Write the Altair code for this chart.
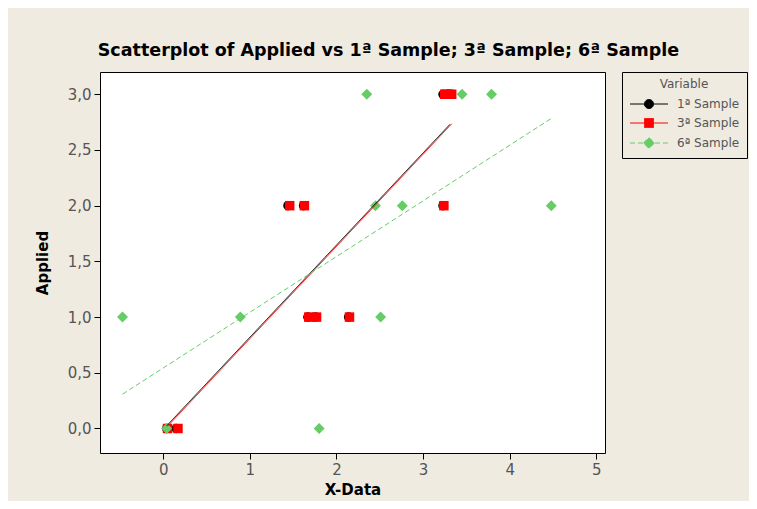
import altair as alt
import pandas as pd

# ---- data ----
series_names = ["1ª Sample", "3ª Sample", "6ª Sample"]
applied = [0, 0, 1, 1, 1, 2, 2, 2, 3, 3, 3]
sample1 = [0.04, 0.15, 1.67, 1.76, 2.14, 1.44, 1.62, 3.23, 3.23, 3.28, 3.31]
sample3 = [0.05, 0.17, 1.68, 1.77, 2.15, 1.46, 1.63, 3.24, 3.25, 3.30, 3.33]
sample6 = [0.04, 1.80, -0.47, 0.89, 2.51, 2.45, 2.76, 4.48, 2.35, 3.45, 3.79]
x_ticks = [0, 1, 2, 3, 4, 5]
y_ticks = [0, 0.5, 1, 1.5, 2, 2.5, 3]

colors = ["#000000", "#FF0000", "#66CC66"]
shapes = ["circle", "square", "diamond"]
dashes = [[1, 0], [1, 0], [5, 3]]
# legend glyphs: line + marker (unit = symbol radius)
legend_paths = [
    "M-1,0L6.6,0M1.9,0A0.9,0.9 0 1,0 3.7,0A0.9,0.9 0 1,0 1.9,0Z",
    "M-1,0L6.6,0M1.9,-0.9L3.7,-0.9L3.7,0.9L1.9,0.9Z",
    "M-1,0L0,0M0.6,0L1.6,0M4.0,0L5.0,0M5.6,0L6.6,0M1.7,0L2.8,-1.1L3.9,0L2.8,1.1Z",
]

rows = []
for name, xs in zip(series_names, [sample1, sample3, sample6]):
    for xv, yv in zip(xs, applied):
        rows.append({"series": name, "x": xv, "y": yv})
df = pd.DataFrame(rows)

BG = "#EFEBE1"
LABEL_FONT = "DejaVu Sans"
TITLE_FONT = "DejaVu Sans"

xscale = alt.Scale(domain=[-0.73, 5.1], nice=False, zero=False)
yscale = alt.Scale(domain=[-0.22, 3.2], nice=False, zero=False)

xaxis = alt.Axis(values=x_ticks, title="X-Data",
                 labelExpr="format(datum.value, 'd')", titlePadding=5)
yaxis = alt.Axis(values=y_ticks, title="Applied",
                 labelExpr="replace(format(datum.value, '.1f'), '.', ',')",
                 titlePadding=17)

cscale = alt.Scale(domain=series_names, range=colors)

base = alt.Chart(df)

# invisible layer that carries the axes and the legend (line + marker glyphs)
leg = alt.Legend(title="Variable", orient="right", offset=17, padding=7,
                 strokeColor="black", fillColor=BG, titleFont=LABEL_FONT,
                 titleFontSize=12, titleFontWeight="normal", titleColor="#555555",
                 titleAnchor="middle", titlePadding=7,
                 labelFont=LABEL_FONT, labelFontSize=12, labelColor="#555555",
                 symbolSize=100, symbolStrokeWidth=1, symbolOpacity=1,
                 labelOffset=36, rowPadding=5)

legend_layer = base.mark_point(filled=True, opacity=0).encode(
    x=alt.X("x:Q", scale=xscale, axis=xaxis),
    y=alt.Y("y:Q", scale=yscale, axis=yaxis),
    fill=alt.Fill("series:N", scale=alt.Scale(domain=series_names, range=colors), legend=leg),
    stroke=alt.Stroke("series:N", scale=alt.Scale(domain=series_names, range=colors), legend=leg),
    shape=alt.Shape("series:N", scale=alt.Scale(domain=series_names, range=legend_paths), legend=leg),
)

point_layers = []
for name, shp in zip(series_names, shapes):
    point_layers.append(
        base.transform_filter(alt.datum.series == name)
        .mark_point(filled=True, opacity=1, size=90 if shp != "diamond" else 120, shape=shp)
        .encode(
            x=alt.X("x:Q", scale=xscale),
            y=alt.Y("y:Q", scale=yscale),
            color=alt.Color("series:N", scale=cscale, legend=None),
        )
    )

lines = base.transform_regression("x", "y", groupby=["series"]).mark_line(strokeWidth=1).encode(
    x=alt.X("x:Q", scale=xscale),
    y=alt.Y("y:Q", scale=yscale),
    color=alt.Color("series:N", scale=cscale, legend=None),
    strokeDash=alt.StrokeDash("series:N", scale=alt.Scale(domain=series_names, range=dashes), legend=None),
)

chart = alt.layer(legend_layer, *point_layers, lines).properties(
    width=505, height=381,
    title=alt.TitleParams("Scatterplot of Applied vs 1ª Sample; 3ª Sample; 6ª Sample",
                          font=TITLE_FONT, fontSize=17.5, fontWeight="bold", color="black",
                          anchor="middle", dx=36, offset=12),
    padding={"left": 92, "top": 64, "right": 144, "bottom": 48},
    autosize=alt.AutoSizeParams(type="none"),
    background=BG,
).configure_view(
    stroke="black", strokeWidth=1, fill="white"
).configure_axis(
    grid=False, domain=False, tickColor="black", tickSize=6,
    labelFont=LABEL_FONT, labelFontSize=15, labelColor="#555555", labelPadding=3,
    titleFont=TITLE_FONT, titleFontSize=15, titleFontWeight="bold", titleColor="black",
)

chart.save("out.html", embed_options={"renderer": "svg", "actions": False})
